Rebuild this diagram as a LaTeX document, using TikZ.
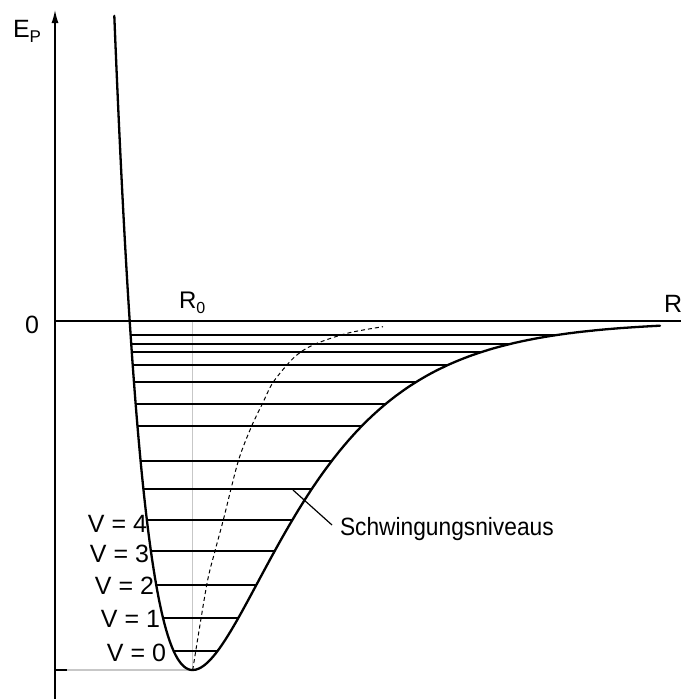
\documentclass[tikz,border=0pt]{standalone}
\usepackage{fontspec}
\setmainfont{Liberation Sans}
\usetikzlibrary{arrows.meta}
\begin{document}
\begin{tikzpicture}[x=1pt,y=-1pt,
  lbl/.style={font=\fontsize{25}{30}\selectfont, inner sep=0pt, outer sep=0pt},
  axisline/.style={line width=1.4pt},
  potline/.style={line width=2.3pt, line join=round, line cap=round},
  levelline/.style={line width=1.4pt},
  guideline/.style={line width=1.1pt, draw=black!22},
  dashcurve/.style={line width=1pt, dash pattern=on 4pt off 3pt},
  leader/.style={line width=1.2pt}]
\useasboundingbox (0,0) rectangle (681,699);

% guide lines
\draw[guideline] (192.3,322) -- (192.3,670);
\draw[guideline] (67,670) -- (192.3,670);
\draw[axisline] (55,670) -- (67,670);

% vibrational levels clipped to the well
\begin{scope}
\clip plot[domain=114.3:192.7, samples=80] (\x, {670-349*(1-exp(-0.011*(\x-192.7)))^2})
   -- plot[domain=192.7:660, samples=160] (\x, {670-349*(1-exp(-0.0107*(\x-192.7)))^2})
   -- (660,0) -- (114.3,0) -- cycle;
\foreach \yy in {335,344,352,365,382,404,426,461,489,520,551,585,618,651}
  \draw[levelline] (90,\yy) -- (700,\yy);
\end{scope}

% dashed curve (centres of the levels)
\draw[dashcurve] plot[smooth, tension=0.5] coordinates {
 (192.7,670) (206.7,585) (215,551) (223.3,520) (238.3,461) (251.7,426)
 (262.3,404) (273.3,382) (294,357.5) (313,345) (347,333.3) (383,326.7)};

% potential curve (Morse shape)
\draw[potline] plot[domain=114.3:192.7, samples=80] (\x, {670-349*(1-exp(-0.011*(\x-192.7)))^2})
   -- plot[domain=192.7:660, samples=160] (\x, {670-349*(1-exp(-0.0107*(\x-192.7)))^2});

% axes
\coordinate (ybot) at (55,699);
\coordinate (ytop) at (55,10);
\coordinate (xleft) at (55,321);
\coordinate (xright) at (681,321);
\draw[axisline, -{Latex[length=13pt,width=7pt]}] (ybot) -- (ytop);
\draw[axisline] (xleft) -- (xright);

% labels
\node[lbl, anchor=base west] (ep) at (13,37) {E\raisebox{-5pt}{\fontsize{17}{17}\selectfont P}};
\node[lbl, anchor=base west] (zero) at (25,333) {0};
\node[lbl, anchor=base west] (rlab) at (664,312) {R};
\node[lbl, anchor=base west, font=\fontsize{24}{28}\selectfont] (rnull) at (179,308.5) {R\raisebox{-5pt}{\fontsize{16}{16}\selectfont 0}};

\node[lbl, anchor=base east] (v4) at (147,532.5) {V = 4};
\node[lbl, anchor=base east] (v3) at (149,562.5) {V = 3};
\node[lbl, anchor=base east] (v2) at (154,594.3) {V = 2};
\node[lbl, anchor=base east] (v1) at (160,627.7) {V = 1};
\node[lbl, anchor=base east] (v0) at (166,661.7) {V = 0};

\node[lbl, anchor=base west] (schw) at (340,535) {\scalebox{0.91}[1]{Schwingungsniveaus}};
\coordinate (leadstart) at (293,490);
\coordinate (leadend) at (332,525);
\draw[leader] (leadstart) -- (leadend);
\end{tikzpicture}
\end{document}
